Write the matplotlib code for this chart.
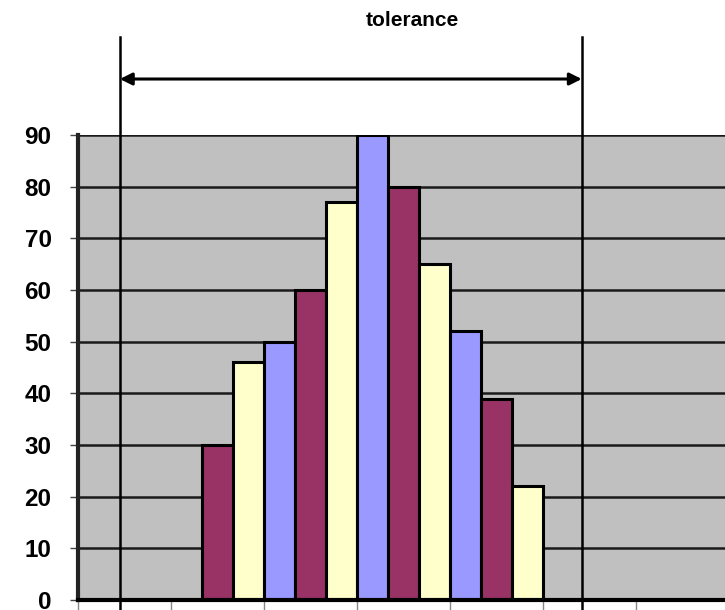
import matplotlib.pyplot as plt
import matplotlib.transforms as mtransforms

# bin counts (21 bins, only the middle ones filled)
counts = [0, 0, 0, 0, 30, 46, 50, 60, 77, 90, 80, 65, 52, 39, 22,
          0, 0, 0, 0, 0, 0]
bar_colors = ["#993366", "#FFFFCC", "#9999FF"]
y_ticks = [0, 10, 20, 30, 40, 50, 60, 70, 80, 90]
x_ticks = [0, 3, 6, 9, 12, 15, 18, 21]
tol_low, tol_high = 1.35, 16.25

plt.rcParams["font.family"] = ["Liberation Sans", "DejaVu Sans"]

fig = plt.figure(figsize=(7.25, 6.1), dpi=100)
ax = fig.add_axes([78 / 725, 10 / 610, 651 / 725, 465 / 610])
ax.set_facecolor("#C0C0C0")

filled = [(i, c) for i, c in enumerate(counts) if c > 0]
for k, (i, c) in enumerate(filled):
    ax.bar(i + 0.5, c, width=1.0, color=bar_colors[k % 3],
           edgecolor="black", linewidth=2.2, zorder=3)

ax.set_xlim(0, 21)
ax.set_ylim(0, 90)
ax.set_yticks(y_ticks)
ax.set_yticklabels([str(v) for v in y_ticks], fontsize=17.5, fontweight="bold")
ax.set_xticks(x_ticks)
ax.set_xticklabels([])
ax.tick_params(axis="y", length=6, width=1, color="#444444", pad=13)
ax.tick_params(axis="x", length=7, width=1, color="#888888")

ax.grid(axis="y", color="#1a1a1a", linewidth=1.8, zorder=1)
ax.set_axisbelow(True)
for side in ["top", "right"]:
    ax.spines[side].set_visible(False)
ax.spines["left"].set_linewidth(3)
ax.spines["left"].set_color("#222222")
ax.spines["bottom"].set_linewidth(3)
ax.spines["bottom"].set_color("black")
ax.spines["bottom"].set_zorder(4)

# tolerance markers
trans = mtransforms.blended_transform_factory(ax.transData, ax.transAxes)
for xv in [tol_low, tol_high]:
    ax.plot([xv, xv], [-0.03, 1.21], color="black", linewidth=1.8,
            transform=trans, clip_on=False, zorder=5)
ax.annotate("", xy=(tol_high, 1.1204), xytext=(tol_low, 1.1204),
            xycoords=trans, textcoords=trans,
            arrowprops=dict(arrowstyle="<|-|>", color="black", lw=2.2,
                            mutation_scale=18, shrinkA=0, shrinkB=0))
ax.text(10.8, 1.247, "tolerance", transform=trans, ha="center", va="center",
        fontsize=15, fontweight="bold")

fig.savefig("out.png", dpi=100)
